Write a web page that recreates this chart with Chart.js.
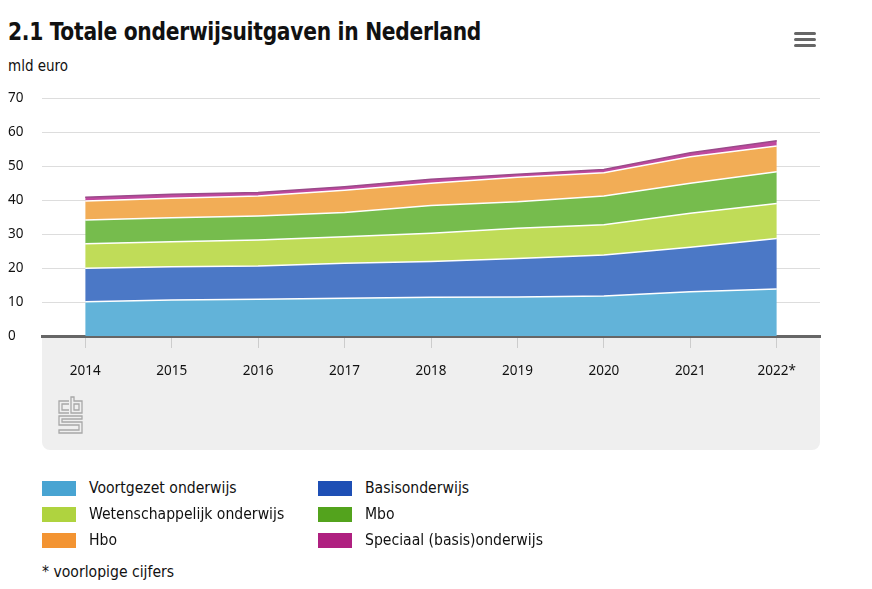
<!DOCTYPE html>
<html>
<head>
<meta charset="utf-8">
<script src="https://cdn.jsdelivr.net/npm/chart.js@4.4.1/dist/chart.umd.min.js"></script>
<style>
  body { margin: 0; background: #fff; width: 872px; height: 589px; position: relative; overflow: hidden;
         font-family: "Liberation Sans Narrow", "DejaVu Sans Condensed", "Noto Sans", sans-serif; color: #111; }
  #title { position: absolute; left: 8px; top: 17px; font-size: 25px; font-weight: bold; letter-spacing: -0.3px;
           transform: scaleX(0.9); transform-origin: left top; white-space: nowrap; }
  #unit { position: absolute; left: 8px; top: 57px; font-size: 15px; }
  #menu { position: absolute; left: 794px; top: 32px; width: 22px; }
  #menu div { height: 3px; background: #666; border-radius: 2px; margin-bottom: 3px; }
  #wrap { position: absolute; left: 0; top: 0; width: 872px; height: 460px; }
  #logo { position: absolute; left: 56px; top: 395px; }
  .leg { position: absolute; font-size: 15.6px; }
  .leg span { position: absolute; width: 34px; height: 15px; left: 0; top: 2px; }
  .leg b { font-weight: normal; position: absolute; left: 47px; top: 0; white-space: nowrap; }
  #note { position: absolute; left: 42px; top: 563px; font-size: 15.6px; }
</style>
</head>
<body>
<div id="title">2.1 Totale onderwijsuitgaven in Nederland</div>
<div id="unit">mld euro</div>
<div id="menu"><div></div><div></div><div></div></div>
<div id="wrap"><canvas id="chart" width="872" height="460"></canvas></div>
<svg id="logo" width="30" height="40" viewBox="0 0 30 40" fill="none" stroke="#a8a8a8" stroke-width="1.3">
  <path d="M13 6 H3 V18 H13 M13 9 H6 V15 H13"/>
  <path d="M15 2 V18 H26 V6 H18 V2 Z M18 9 H23 V15 H18 Z"/>
  <path d="M26 21 H3 V30 H23 V35 H3 V38 H26 V27 H6 V24 H26 Z"/>
</svg>
<div id="legend"></div>
<div id="note">* voorlopige cijfers</div>

<script>
const years = ["2014", "2015", "2016", "2017", "2018", "2019", "2020", "2021", "2022*"];

// mld euro per sector
const voortgezet = [10.1, 10.6, 10.8, 11.1, 11.4, 11.5, 11.8, 13.0, 13.8];
const basis      = [9.8, 9.8, 9.8, 10.3, 10.5, 11.3, 12.0, 13.1, 14.9];
const wetensch   = [7.2, 7.3, 7.6, 7.8, 8.3, 8.9, 8.9, 10.0, 10.3];
const mbo        = [7.0, 7.1, 7.1, 7.1, 8.2, 7.8, 8.5, 8.8, 9.3];
const hbo        = [5.6, 5.7, 5.9, 6.6, 6.5, 7.2, 6.8, 7.8, 7.6];
const speciaal   = [1.1, 1.2, 1.0, 1.0, 1.2, 0.9, 1.0, 1.2, 1.5];

const series = [
    { label: "Voortgezet onderwijs", data: voortgezet, fill: "#62b3d9", key: "#48a4d2" },
    { label: "Basisonderwijs", data: basis, fill: "#4b78c6", key: "#1e4fb5" },
    { label: "Wetenschappelijk onderwijs", data: wetensch, fill: "#c0dc58", key: "#afd33f" },
    { label: "Mbo", data: mbo, fill: "#76bc4d", key: "#53a31d" },
    { label: "Hbo", data: hbo, fill: "#f2ad56", key: "#f39432" },
    { label: "Speciaal (basis)onderwijs", data: speciaal, fill: "#c0489e", key: "#af2080" }
];

// legend in two columns, filled row by row
const legend = document.getElementById("legend");
series.forEach((s, i) => {
    const el = document.createElement("div");
    el.className = "leg";
    el.style.left = (i % 2 === 0 ? 42 : 318) + "px";
    el.style.top = (479 + Math.floor(i / 2) * 26) + "px";
    el.innerHTML = `<span style="background:${s.key}"></span><b>${s.label}</b>`;
    legend.appendChild(el);
});

// grey band under the x axis
const bandPlugin = {
    id: "band",
    beforeDraw(c) {
        const { ctx, chartArea } = c;
        ctx.save();
        ctx.fillStyle = "#efefef";
        ctx.beginPath();
        ctx.roundRect(chartArea.left, chartArea.bottom, chartArea.right - chartArea.left, 450 - chartArea.bottom, [0, 0, 8, 8]);
        ctx.fill();
        ctx.restore();
    }
};

const tickFont = { family: "'Noto Sans', sans-serif", size: 13.5 };

new Chart(document.getElementById("chart"), {
    type: "line",
    data: {
        labels: years,
        datasets: series.map((s, i) => ({
            label: s.label,
            data: s.data,
            backgroundColor: s.fill,
            borderColor: i === series.length - 1 ? "#9a4a8a" : "#ffffff",
            borderWidth: 1.5,
            pointRadius: 0,
            tension: 0,
            fill: i === 0 ? "origin" : "-1"
        }))
    },
    options: {
        responsive: false,
        animation: false,
        devicePixelRatio: 1,
        layout: { padding: { left: 8, right: 52, top: 98, bottom: 0 } },
        plugins: {
            legend: { display: false },
            tooltip: { enabled: false }
        },
        scales: {
            x: {
                offset: true,
                border: { color: "#666", width: 3 },
                grid: { drawOnChartArea: false, tickColor: "#cccccc", tickLength: 12 },
                ticks: { color: "#111", font: tickFont, padding: 15, maxRotation: 0 },
                afterFit(scale) { scale.height = 124; }
            },
            y: {
                stacked: true,
                min: 0,
                max: 70,
                border: { display: false },
                grid: { color: "#dddddd", drawTicks: false },
                ticks: { stepSize: 10, color: "#111", font: tickFont, crossAlign: "far", padding: 4 },
                afterFit(scale) { scale.width = 34; }
            }
        }
    },
    plugins: [bandPlugin]
});
</script>
</body>
</html>
